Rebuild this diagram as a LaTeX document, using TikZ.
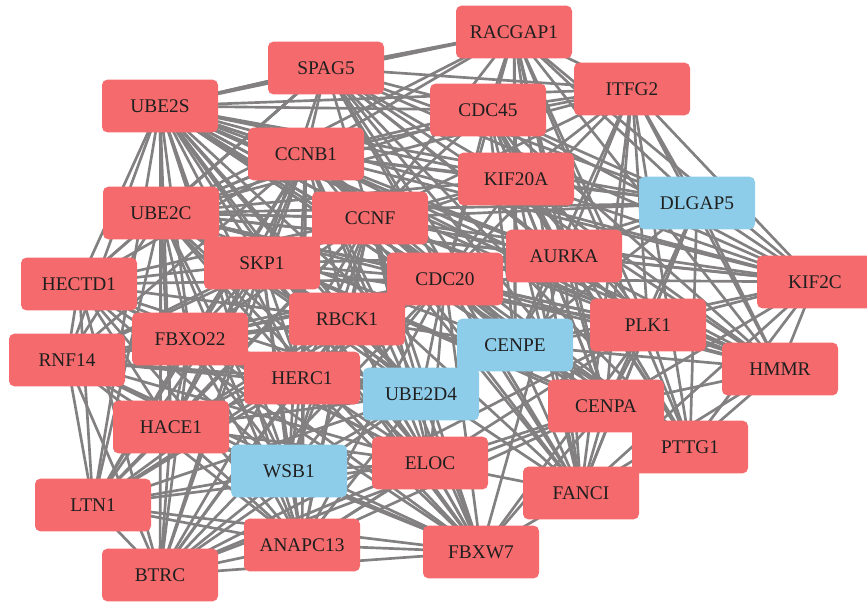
\documentclass[tikz,border=0pt]{standalone}
\usepackage{fontspec}
\newfontfamily\genefont{Liberation Serif}
\usepackage{tikz}
\definecolor{hubred}{RGB}{245,106,108}
\definecolor{hubblue}{RGB}{142,205,233}
\definecolor{linkgray}{RGB}{130,128,128}
\begin{document}
\begin{tikzpicture}[x=0.75pt,y=-0.75pt,
  gene/.style={rectangle,rounded corners=4pt,minimum width=87pt,minimum height=39.5pt,inner sep=0pt,
    font=\genefont\fontsize{14.5}{17}\selectfont,text=black!88},
  redgene/.style={gene,fill=hubred},
  bluegene/.style={gene,fill=hubblue},
  link/.style={draw=linkgray,line width=2pt}]
\useasboundingbox (0,0) rectangle (867,601);
% gene positions (nodes are drawn on top of the links)
\coordinate (pRACGAP1) at (514,32);
\coordinate (pSPAG5) at (326,68);
\coordinate (pITFG2) at (632,89);
\coordinate (pUBE2S) at (160,106);
\coordinate (pCDC45) at (488,110);
\coordinate (pCCNB1) at (306,154);
\coordinate (pKIF20A) at (516,179);
\coordinate (pDLGAP5) at (697,203);
\coordinate (pUBE2C) at (161,213);
\coordinate (pCCNF) at (370,218);
\coordinate (pAURKA) at (564,256);
\coordinate (pSKP1) at (262,263);
\coordinate (pCDC20) at (445,279);
\coordinate (pHECTD1) at (79,284);
\coordinate (pKIF2C) at (815,282);
\coordinate (pRBCK1) at (347,319);
\coordinate (pPLK1) at (648,325);
\coordinate (pFBXO22) at (190,339);
\coordinate (pCENPE) at (515,345);
\coordinate (pRNF14) at (67,360);
\coordinate (pHMMR) at (780,369);
\coordinate (pHERC1) at (302,378);
\coordinate (pUBE2D4) at (421,394);
\coordinate (pCENPA) at (606,406);
\coordinate (pHACE1) at (171,427);
\coordinate (pPTTG1) at (690,447);
\coordinate (pWSB1) at (289,471);
\coordinate (pELOC) at (430,463);
\coordinate (pFANCI) at (581,493);
\coordinate (pLTN1) at (93,505);
\coordinate (pANAPC13) at (302,545);
\coordinate (pFBXW7) at (481,552);
\coordinate (pBTRC) at (160,575);

% ubiquitin ligase module: fully linked
\foreach \a [count=\i] in {UBE2S,UBE2C,CCNF,SKP1,CDC20,HECTD1,RBCK1,FBXO22,RNF14,HERC1,UBE2D4,HACE1,WSB1,ELOC,LTN1,ANAPC13,FBXW7,BTRC,CCNB1}{
  \foreach \b [count=\j] in {UBE2S,UBE2C,CCNF,SKP1,CDC20,HECTD1,RBCK1,FBXO22,RNF14,HERC1,UBE2D4,HACE1,WSB1,ELOC,LTN1,ANAPC13,FBXW7,BTRC,CCNB1}{
    \ifnum\j>\i \draw[link] (p\a) -- (p\b); \fi
  }
}
% cell-cycle module: fully linked
\foreach \a [count=\i] in {RACGAP1,SPAG5,ITFG2,CDC45,KIF20A,DLGAP5,AURKA,KIF2C,PLK1,CENPE,HMMR,CENPA,PTTG1,FANCI,UBE2C,UBE2S,CDC20,CCNF,CCNB1}{
  \foreach \b [count=\j] in {RACGAP1,SPAG5,ITFG2,CDC45,KIF20A,DLGAP5,AURKA,KIF2C,PLK1,CENPE,HMMR,CENPA,PTTG1,FANCI,UBE2C,UBE2S,CDC20,CCNF,CCNB1}{
    \ifnum\j>\i \draw[link] (p\a) -- (p\b); \fi
  }
}
% links between the two modules
\foreach \a/\b in {FANCI/ELOC,FANCI/FBXW7,FBXW7/CENPA,FBXW7/PLK1,FBXW7/AURKA,SKP1/AURKA,SKP1/PLK1,
  SKP1/KIF20A,BTRC/CENPA,BTRC/PLK1,ANAPC13/CENPA,ANAPC13/PLK1,ELOC/CENPA,UBE2D4/CENPE,RBCK1/CENPE,
  HECTD1/SPAG5,UBE2C/SPAG5,UBE2S/SPAG5,SKP1/SPAG5,FBXO22/AURKA}{
  \draw[link] (p\a) -- (p\b);
}

\node[redgene] (RACGAP1) at (pRACGAP1) {RACGAP1};
\node[redgene] (SPAG5) at (pSPAG5) {SPAG5};
\node[redgene] (ITFG2) at (pITFG2) {ITFG2};
\node[redgene] (UBE2S) at (pUBE2S) {UBE2S};
\node[redgene] (CDC45) at (pCDC45) {CDC45};
\node[redgene] (CCNB1) at (pCCNB1) {CCNB1};
\node[redgene] (KIF20A) at (pKIF20A) {KIF20A};
\node[bluegene] (DLGAP5) at (pDLGAP5) {DLGAP5};
\node[redgene] (UBE2C) at (pUBE2C) {UBE2C};
\node[redgene] (CCNF) at (pCCNF) {CCNF};
\node[redgene] (AURKA) at (pAURKA) {AURKA};
\node[redgene] (SKP1) at (pSKP1) {SKP1};
\node[redgene] (CDC20) at (pCDC20) {CDC20};
\node[redgene] (HECTD1) at (pHECTD1) {HECTD1};
\node[redgene] (KIF2C) at (pKIF2C) {KIF2C};
\node[redgene] (RBCK1) at (pRBCK1) {RBCK1};
\node[redgene] (PLK1) at (pPLK1) {PLK1};
\node[redgene] (FBXO22) at (pFBXO22) {FBXO22};
\node[bluegene] (CENPE) at (pCENPE) {CENPE};
\node[redgene] (RNF14) at (pRNF14) {RNF14};
\node[redgene] (HMMR) at (pHMMR) {HMMR};
\node[redgene] (HERC1) at (pHERC1) {HERC1};
\node[bluegene] (UBE2D4) at (pUBE2D4) {UBE2D4};
\node[redgene] (CENPA) at (pCENPA) {CENPA};
\node[redgene] (HACE1) at (pHACE1) {HACE1};
\node[redgene] (PTTG1) at (pPTTG1) {PTTG1};
\node[bluegene] (WSB1) at (pWSB1) {WSB1};
\node[redgene] (ELOC) at (pELOC) {ELOC};
\node[redgene] (FANCI) at (pFANCI) {FANCI};
\node[redgene] (LTN1) at (pLTN1) {LTN1};
\node[redgene] (ANAPC13) at (pANAPC13) {ANAPC13};
\node[redgene] (FBXW7) at (pFBXW7) {FBXW7};
\node[redgene] (BTRC) at (pBTRC) {BTRC};
\end{tikzpicture}
\end{document}
